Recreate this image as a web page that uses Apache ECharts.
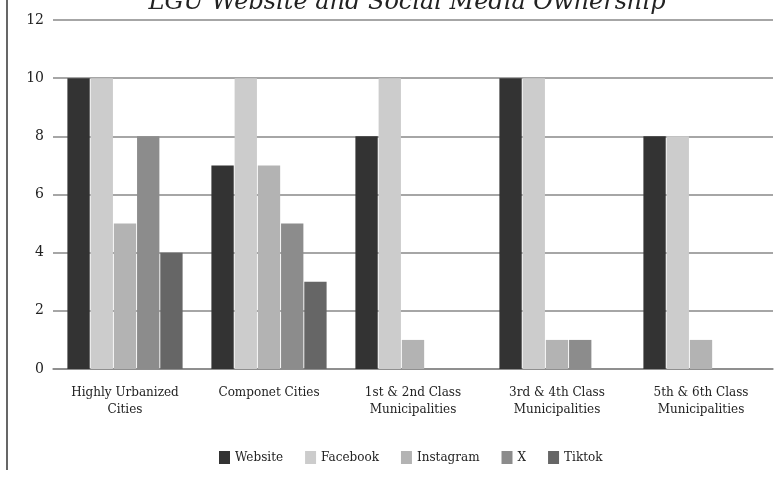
<!DOCTYPE html>
<html>
<head>
<meta charset="utf-8">
<script src="https://cdn.jsdelivr.net/npm/echarts@6/dist/echarts.min.js"></script>
<style>
  html, body { margin: 0; padding: 0; background: #fff; }
  #chart { width: 780px; height: 477px; }
</style>
</head>
<body>
<div id="chart"></div>
<script>
var categories = ['Highly Urbanized\nCities', 'Componet Cities', '1st & 2nd Class\nMunicipalities', '3rd & 4th Class\nMunicipalities', '5th & 6th Class\nMunicipalities'];
var seriesNames = ['Website', 'Facebook', 'Instagram', 'X', 'Tiktok'];
var website = [10, 7, 8, 10, 8];
var facebook = [10, 10, 10, 10, 8];
var instagram = [5, 7, 1, 1, 1];
var xAcc = [8, 5, 0, 1, 0];
var tiktok = [4, 3, 0, 0, 0];
var colors = ['#333333', '#cccccc', '#b3b3b3', '#8c8c8c', '#666666'];
var yTicks = [0, 2, 4, 6, 8, 10, 12];

var font = '"DejaVu Serif", "Liberation Serif", serif';
var allData = [website, facebook, instagram, xAcc, tiktok];

var chart = echarts.init(document.getElementById('chart'));
var series = seriesNames.map(function(n, i) {
    return {
        name: n,
        type: 'bar',
        data: allData[i],
        barGap: '4%',
        barCategoryGap: '20%',
        itemStyle: { color: colors[i] }
    };
});

chart.setOption({
    animation: false,
    color: colors,
    title: {
        text: 'LGU Website and Social Media Ownership',
        left: 402,
        textAlign: 'center',
        top: -14,
        textStyle: { fontFamily: font, fontStyle: 'italic', fontWeight: 'normal', fontSize: 24, color: '#222' }
    },
    legend: {
        data: seriesNames,
        bottom: 8,
        left: 214,
        itemWidth: 11,
        itemHeight: 13,
        itemGap: 22,
        icon: 'rect',
        textStyle: { fontFamily: font, fontSize: 12, color: '#222' }
    },
    grid: { left: 53, right: 7, top: 20, bottom: 108 },
    xAxis: {
        type: 'category',
        data: categories,
        axisLine: { lineStyle: { color: '#888', width: 1.5 } },
        axisTick: { show: false },
        axisLabel: { fontFamily: font, fontSize: 12, color: '#222', margin: 15, lineHeight: 17, interval: 0 }
    },
    yAxis: {
        type: 'value',
        min: yTicks[0],
        max: yTicks[yTicks.length - 1],
        interval: 2,
        axisLine: { show: false },
        axisTick: { show: false },
        axisLabel: { fontFamily: font, fontSize: 14, color: '#222', margin: 9 },
        splitLine: { lineStyle: { color: '#888', width: 1.5 } }
    },
    graphic: [{
        type: 'line',
        shape: { x1: 7, y1: 0, x2: 7, y2: 470 },
        style: { stroke: '#000', lineWidth: 1.2 }
    }],
    series: series
});
</script>
</body>
</html>
